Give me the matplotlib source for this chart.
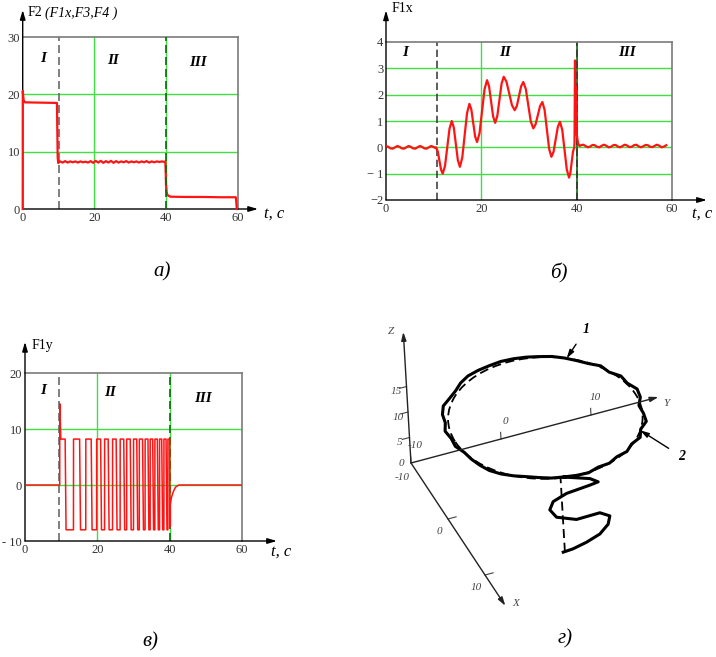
import numpy as np
import matplotlib
matplotlib.use("Agg")
import matplotlib.pyplot as plt
from matplotlib.patches import Circle
from matplotlib.transforms import Affine2D

plt.rcParams['font.family'] = ['Liberation Serif', 'DejaVu Serif']

W, H = 716, 657
GREEN = '#3fe03f'
DKGREEN = '#0b6b0b'
RED = '#ff1414'
GRAY = '#7a7a7a'
TXT = '#333333'

# ---------------- a) F2 ----------------
f2_head_t = [0, 0.02, 0.25, 0.6, 9.55, 9.65, 9.75, 9.9, 10.1]
f2_head_v = [0, 20.6, 19.0, 18.6, 18.5, 13.5, 9.0, 8.0, 8.3]
f2_mid_v = [8.3, 8.1, 8.35, 8.1, 8.3, 8.15, 8.3, 8.1, 8.3, 8.15, 8.25, 8.1,
            8.35, 8.05, 8.4, 8.1, 8.4, 8.05, 8.35, 8.1, 8.4, 8.05, 8.35, 8.1,
            8.3, 8.15, 8.35, 8.1, 8.3, 8.15, 8.3, 8.1, 8.3, 8.15, 8.35, 8.1,
            8.3, 8.15, 8.3, 8.2, 8.3, 8.2]
f2_tail_t = [39.75, 39.85, 39.95, 40.1, 40.3, 40.6, 41.2, 45, 50, 55, 59.4, 59.55, 59.65]
f2_tail_v = [8.3, 6.5, 4.0, 3.0, 2.5, 2.3, 2.15, 2.1, 2.1, 2.05, 2.05, 1.0, 0.0]

# ---------------- б) F1x ----------------
fx_I_v = [0.05, 0.02, -0.04, -0.05, 0.0, 0.05, 0.02, -0.04, -0.05, 0.0, 0.05, 0.02,
          -0.04, -0.05, 0.0, 0.05, 0.02, -0.04, -0.05, 0.0, 0.05, 0.02, -0.03]
fx_II_t = [10.5, 10.85, 11.2, 11.55, 11.9, 12.375, 12.85, 13.325, 13.8, 14.225, 14.65,
           15.075, 15.5, 16.0, 16.5, 17.0, 17.5, 17.9, 18.3, 18.7, 19.1, 19.625, 20.15,
           20.675, 21.2, 21.625, 22.05, 22.475, 22.9, 23.35, 23.8, 24.25, 24.7, 25.275,
           25.85, 26.425, 27.0, 27.45, 27.9, 28.35, 28.8, 29.325, 29.85, 30.375, 30.9,
           31.375, 31.85, 32.325, 32.8, 33.275, 33.75, 34.225, 34.7, 35.15, 35.6, 36.05,
           36.5, 36.975, 37.45, 37.925, 38.4, 38.675, 38.95, 39.225, 39.5]
fx_II_v = [0.0, -0.15, -0.5, -0.85, -1.0, -0.71, 0.0, 0.71, 1.0, 0.75, 0.13, -0.49,
           -0.74, -0.39, 0.455, 1.30, 1.65, 1.44, 0.925, 0.41, 0.2, 0.54, 1.375, 2.21,
           2.55, 2.31, 1.74, 1.17, 0.93, 1.19, 1.805, 2.42, 2.68, 2.49, 2.045, 1.60,
           1.41, 1.57, 1.945, 2.32, 2.48, 2.22, 1.60, 0.98, 0.72, 0.87, 1.22, 1.57,
           1.72, 1.42, 0.68, -0.06, -0.36, -0.17, 0.305, 0.78, 0.97, 0.66, -0.09,
           -0.84, -1.15, -0.98, -0.575, -0.17, 0.0]
fx_spike_t = [39.55, 39.65, 39.75, 39.85, 40.0, 40.3, 40.6]
fx_spike_v = [0.2, 3.3, 0.6, 2.3, 0.5, 0.15, 0.05]
fx_III_v = [0.08, 0.1, 0.05, 0.0, 0.03, 0.09, 0.08, 0.02, 0.0, 0.06, 0.1, 0.06, 0.0,
            0.02, 0.08, 0.09, 0.03, 0.0, 0.05, 0.1, 0.07, 0.01, 0.02, 0.08, 0.1, 0.04,
            0.0, 0.04, 0.09, 0.08, 0.02, 0.01, 0.06, 0.1, 0.06, 0.0, 0.03, 0.08]

# ---------------- в) F1y ----------------
fy_rise = [9.6, 13.4, 16.8, 19.8, 22.0, 24.2, 26.3, 28.1, 30.0, 31.6, 33.2, 34.6, 35.9, 37.2, 38.4, 39.5]
fy_fall = [11.1, 15.1, 18.3, 20.9, 23.0, 25.2, 27.3, 29.1, 30.9, 32.5, 34.0, 35.3, 36.6, 37.8, 39.0, 40.0]
fy_high, fy_low, fy_peak = 8.2, -8.0, 14.5
fy_tail_t = [40.05, 40.15, 40.5, 41.0, 41.6, 42.5, 60]
fy_tail_v = [-7.5, -3.5, -2.2, -1.2, -0.4, 0.0, 0.0]

# ---------------- г) trajectory ----------------
ref_center = (0.0, 1.3)
ref_radius = 10.0
plane_z = 14.5
s_x = 9.7
s_y = [-1.18, -0.08, 1.43, 2.94, 3.91, 4.15, 3.08, 0.48, -1.69, -2.38, -1.96, -0.44, 2.16, 3.09, 2.21, -0.70]
s_z = [0.0, 0.14, 0.72, 1.62, 3.09, 4.60, 5.72, 5.63, 7.09, 8.86, 10.28, 11.17, 11.57, 11.78, 12.83, 14.50]
loop_r = [9.9, 10.0, 10.1, 9.8, 10.0, 9.8, 10.1, 9.9, 10.3, 10.0, 10.4, 10.1, 9.8, 10.3,
          10.5, 10.1, 10.3, 9.9, 10.2, 9.9, 9.9, 10.0, 10.1, 10.1, 10.2, 10.3, 10.4, 10.4,
          10.5, 10.6, 10.5, 10.3, 10.4, 10.7, 10.6, 10.3, 10.5, 10.2, 10.3, 10.0, 10.1,
          10.2, 10.3, 10.2, 10.0, 9.8, 9.8, 9.9, 9.9]
ref_line_y = -1.0


fig = plt.figure(figsize=(7.16, 6.57), dpi=100)


def make_axes(l, t, r, b):
    return fig.add_axes([l / W, 1 - b / H, (r - l) / W, (b - t) / H])


def ftext(x, y, s, **kw):
    fig.text(x / W, 1 - y / H, s, **kw)


def time_panel(box, ylim, yticks, ylabels, hgrid, tip_y, tip_x):
    ax = make_axes(*box)
    ax.set_xlim(0, 60)
    ax.set_ylim(*ylim)
    for s in ['left', 'bottom']:
        ax.spines[s].set_visible(False)
    for s in ['top', 'right']:
        ax.spines[s].set_color(GRAY)
        ax.spines[s].set_linewidth(1.2)
    ax.set_xticks([0, 20, 40, 60])
    ax.set_yticks(yticks)
    ax.set_yticklabels(ylabels)
    ax.tick_params(length=0, labelsize=9, labelcolor=TXT, pad=2)
    for y in hgrid:
        ax.axhline(y, color=GREEN, lw=1, zorder=1)
    ax.axvline(20, color=GREEN, lw=1, zorder=1)
    arr = dict(arrowstyle='-|>,head_width=0.16,head_length=0.55', color='k', lw=1,
               shrinkA=0, shrinkB=0)
    ax.annotate('', xy=(0, tip_y), xytext=(0, 0), xycoords='axes fraction',
                arrowprops=arr, annotation_clip=False)
    ax.annotate('', xy=(tip_x, 0), xytext=(0, 0), xycoords='axes fraction',
                arrowprops=arr, annotation_clip=False)
    return ax


dash = (0, (4.8, 2.4))
roman = dict(fontsize=11, fontweight='bold', fontstyle='italic', ha='center', va='center')
tc = dict(fontsize=12, fontstyle='italic', ha='left', va='center')
cap = dict(fontsize=15, fontstyle='italic', ha='center', va='center')

# ---- a)
ax = time_panel((22.7, 37, 238, 209), (0, 30), [0, 10, 20, 30], ['0', '10', '20', '30'],
                [10, 20], 1.157, 1.093)
ax.axvline(40, color=GREEN, lw=1, zorder=1)
ax.axvline(10, color='#6a6a6a', lw=1.2, ls=dash, zorder=2)
ax.axvline(40, color=DKGREEN, lw=1.2, ls=dash, zorder=4)
f2_t = f2_head_t + list(np.linspace(10.4, 39.5, len(f2_mid_v))) + f2_tail_t
f2_v = f2_head_v + f2_mid_v + f2_tail_v
ax.plot(f2_t, f2_v, color=RED, lw=1.6, zorder=3, clip_on=False)
ftext(28, 13, 'F2', fontsize=10, color='k', va='center')
ftext(45, 13, '(F1x,F3,F4 )', fontsize=10, fontstyle='italic', color='k', va='center')
ftext(43, 58, 'I', **roman)
ftext(113, 60, 'II', **roman)
ftext(198, 62, 'III', **roman)
ftext(264, 214, 't, c', **tc)
ftext(162, 272, 'а)', **cap)

# ---- б)
ax = time_panel((386, 42, 672, 200), (-2, 4), [-2, -1, 0, 1, 2, 3, 4],
                ['−2', '− 1', '0', '1', '2', '3', '4'], [-1, 0, 1, 2, 3], 1.20, 1.122)
ax.axvline(40, color=DKGREEN, lw=1.2, zorder=1)
ax.axvline(10.8, color='#333333', lw=1.1, ls=dash, zorder=2)
ax.axvline(40, color='#333333', lw=1.1, ls=dash, zorder=2)
fx_t = (list(np.linspace(0, 10.4, len(fx_I_v))) + fx_II_t + fx_spike_t
        + list(np.linspace(40.9, 58.8, len(fx_III_v))))
fx_v = fx_I_v + fx_II_v + fx_spike_v + fx_III_v
ax.plot(fx_t, fx_v, color=RED, lw=1.6, zorder=3)
ftext(392, 9, 'F1x', fontsize=10, color='k', va='center')
ftext(405, 53, 'I', **roman)
ftext(505, 53, 'II', **roman)
ftext(627, 53, 'III', **roman)
ftext(692, 214, 't, c', **tc)
ftext(559, 273, 'б)', **cap)

# ---- в)
ax = time_panel((25, 373, 242, 541), (-10, 20), [-10, 0, 10, 20], ['- 10', '0', '10', '20'],
                [0, 10], 1.185, 1.161)
ax.axvline(40, color=GREEN, lw=1, zorder=1)
ax.axvline(9.5, color='#6a6a6a', lw=1.2, ls=dash, zorder=2)
ax.axvline(40, color=DKGREEN, lw=1.2, ls=dash, zorder=2)
fy_t, fy_v = [0], [0]
prev = 0
for i, (r, f) in enumerate(zip(fy_rise, fy_fall)):
    if i == 0:
        fy_t += [r, r + 0.02, r + 0.3, f]
        fy_v += [prev, fy_peak, fy_high, fy_high]
    else:
        fy_t += [r, r + 0.02, f]
        fy_v += [prev, fy_high, fy_high]
    if i < len(fy_rise) - 1:
        fy_t += [f + 0.25]
        fy_v += [fy_low]
    prev = fy_low
fy_t += fy_tail_t
fy_v += fy_tail_v
ax.plot(fy_t, fy_v, color=RED, lw=1.1, zorder=3)
ftext(32, 346, 'F1y', fontsize=10, color='k', va='center')
ftext(43, 390, 'I', **roman)
ftext(110, 392, 'II', **roman)
ftext(203, 398, 'III', **roman)
ftext(271, 552, 't, c', **tc)
ftext(150, 642, 'в)', **cap)

# ---- г)
ax = make_axes(360, 310, 716, 620)
ax.set_xlim(360, 716)
ax.set_ylim(620, 310)
ax.axis('off')

O = np.array([411.0, 463.0])
EX = np.array([3.7, 5.6])
EY = np.array([9.0, -2.4])
EZ = np.array([-0.3, -5.1])


def proj(X, Y, Z):
    X, Y, Z = np.asarray(X, float), np.asarray(Y, float), np.asarray(Z, float)
    u = O[0] + (X + 10) * EX[0] + (Y + 10) * EY[0] + Z * EZ[0]
    v = O[1] + (X + 10) * EX[1] + (Y + 10) * EY[1] + Z * EZ[1]
    return u, v


arr3 = dict(arrowstyle='-|>,head_width=0.15,head_length=0.5', color='#222222', lw=1,
            shrinkA=0, shrinkB=0)
lab3 = dict(fontsize=8, fontstyle='italic', color='#444444', ha='center', va='center')
for end in [(15.5, -10, 0), (-10, 17.5, 0), (-10, -10, 25.7)]:
    u0, v0 = proj(-10, -10, 0)
    u1, v1 = proj(*end)
    ax.annotate('', xy=(u1, v1), xytext=(u0, v0), arrowprops=arr3)
u, v = proj(-10, -10, 25.7)
ax.text(u - 12, v, 'Z', **lab3)
u, v = proj(-10, 17.5, 0)
ax.text(u + 8, v + 6, 'Y', **lab3)
u, v = proj(15.5, -10, 0)
ax.text(u + 10, v - 2, 'X', **lab3)
for z in [0, 5, 10, 15]:
    u, v = proj(-10, -10, z)
    if z:
        tu, tv = proj(-10, [-10, -10.8], z)
        ax.plot(tu, tv, color='#444444', lw=0.8)
    ax.text(u - 10, v + (5 if z else 1), str(z), **lab3)
for y in [-10, 0, 10]:
    tu, tv = proj(-10, y, [0, 1.3])
    ax.plot(tu, tv, color='#444444', lw=0.8)
    ax.text(tu[0] + 4, tv[0] - 17, '-10' if y < 0 else str(y), **lab3)
for x in [-10, 0, 10]:
    tu, tv = proj(x, [-10, -9.1], 0)
    if x > -10:
        ax.plot(tu, tv, color='#444444', lw=0.8)
    ax.text(tu[0] - 9, tv[0] + (14 if x < 0 else 12), '-10' if x < 0 else str(x), **lab3)

# reference circle (dashed) in plane Z = plane_z
c0 = O + 10 * EX + 10 * EY + plane_z * EZ
plane = Affine2D().from_values(EX[0], EX[1], EY[0], EY[1], c0[0], c0[1])
ax.add_patch(Circle(ref_center, ref_radius, transform=plane + ax.transData, fill=False,
                    ls=(0, (5, 2.6)), lw=1.3, color='k'))
ru, rv = proj(s_x, ref_line_y, [0, plane_z])
ax.plot(ru, rv, color='k', lw=1.3, ls=(0, (5, 2.6)))

# real trajectory (solid)
th = np.deg2rad(np.arange(-11.25, 349, 7.5))
lx = np.array(loop_r) * np.cos(th) + ref_center[0]
ly = np.array(loop_r) * np.sin(th) + ref_center[1]
tx = np.concatenate([np.full(len(s_y), s_x), lx])
ty = np.concatenate([s_y, ly])
tz = np.concatenate([s_z, np.full(len(lx), plane_z)])
pu, pv = proj(tx, ty, tz)
ax.plot(pu, pv, color='k', lw=2.2, solid_joinstyle='round')

a1 = np.deg2rad(145)
u1, v1 = proj(ref_radius * np.cos(a1), ref_center[1] + ref_radius * np.sin(a1), plane_z)
ax.annotate('1', xy=(u1, v1), xytext=(14, 21), textcoords='offset points',
            fontsize=10, fontweight='bold', fontstyle='italic', ha='center', va='center',
            arrowprops=dict(arrowstyle='-|>,head_width=0.15,head_length=0.5', color='k',
                            lw=1, shrinkA=5, shrinkB=0))
a2 = np.deg2rad(55)
u2, v2 = proj(ref_radius * np.cos(a2), ref_center[1] + ref_radius * np.sin(a2), plane_z)
ax.annotate('2', xy=(u2, v2), xytext=(30, -19), textcoords='offset points',
            fontsize=10, fontweight='bold', fontstyle='italic', ha='center', va='center',
            arrowprops=dict(arrowstyle='-|>,head_width=0.15,head_length=0.5', color='k',
                            lw=1, shrinkA=6, shrinkB=0))
ftext(565, 639, 'г)', **cap)

fig.savefig('out.png', dpi=100)
